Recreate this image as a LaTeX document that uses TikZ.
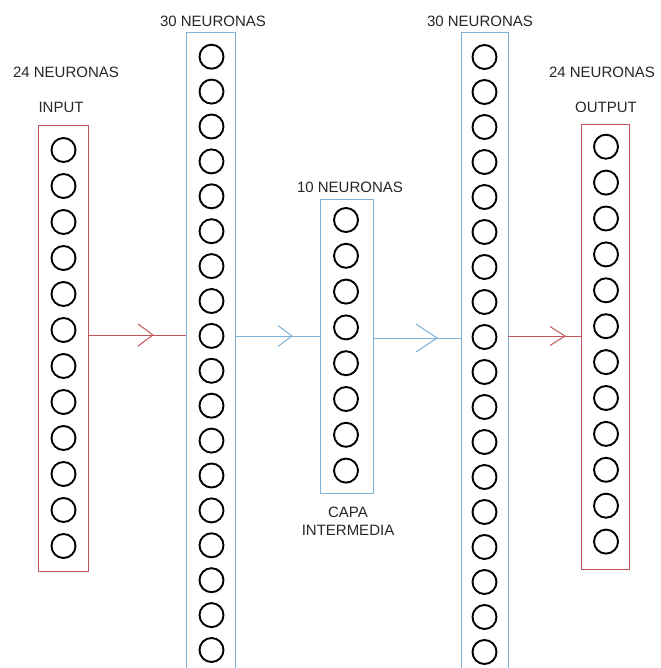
\documentclass[tikz,border=0pt]{standalone}
\usepackage{fontspec}
\setmainfont{Liberation Sans}
\begin{document}
\begin{tikzpicture}[x=1pt,y=-1pt,
  neuron/.style={circle,draw=black,line width=1.9pt,minimum size=24pt,inner sep=0pt},
  redline/.style={draw=layerred,line width=1pt},
  blueline/.style={draw=layerblue,line width=1pt},
  layerbox/.style={rectangle,anchor=north west,inner sep=0pt,outer sep=0pt},
  lbl/.style={font=\fontsize{15}{18}\selectfont,text=black!85,inner sep=0pt,align=center}]
\definecolor{layerred}{RGB}{196,84,90}
\definecolor{layerblue}{RGB}{128,178,214}
\useasboundingbox (0,0) rectangle (660,668);
\clip (0,0) rectangle (660,668);

% layer frames
\node[layerbox,redline,minimum width=50pt,minimum height=445pt] (inbox) at (38,126) {};
\node[layerbox,blueline,minimum width=49pt,minimum height=660pt] (hidA) at (186,33) {};
\node[layerbox,blueline,minimum width=53pt,minimum height=293pt] (mid) at (320,200) {};
\node[layerbox,blueline,minimum width=47pt,minimum height=660pt] (hidB) at (461,33) {};
\node[layerbox,redline,minimum width=48pt,minimum height=444pt] (outbox) at (581,125) {};

% neurons
\foreach \i in {1,...,12} \node[neuron] (in\i) at (63.5,{150+36*(\i-1)}) {};
\foreach \i in {1,...,18} \node[neuron] (a\i) at (211.5,{56.7+34.9*(\i-1)}) {};
\foreach \i in {1,...,8}  \node[neuron] (m\i) at (346,{220+35.8*(\i-1)}) {};
\foreach \i in {1,...,18} \node[neuron] (b\i) at (484.5,{57+35*(\i-1)}) {};
\foreach \i in {1,...,12} \node[neuron] (out\i) at (606,{146.7+35.9*(\i-1)}) {};

% labels
\node[lbl] (tin) at (66,72) {24 NEURONAS};
\node[lbl] (tinput) at (61,107) {INPUT};
\node[lbl] (ta) at (213,21) {30 NEURONAS};
\node[lbl] (tm) at (350,187) {10 NEURONAS};
\node[lbl] (tcapa) at (348,521) {CAPA\\INTERMEDIA};
\node[lbl] (tb) at (480,21) {30 NEURONAS};
\node[lbl] (tout) at (602,72) {24 NEURONAS};
\node[lbl] (toutput) at (606,107) {OUTPUT};

% connections between layers with open chevrons
\draw[redline] (inbox.east |- 0,335) -- coordinate[pos=0.663] (c1) (hidA.west |- 0,335);
\draw[redline] (c1) ++(-15,-11) -- (c1) -- ++(-15,11);
\draw[blueline] (hidA.east |- 0,336) -- coordinate[pos=0.67] (c2) (mid.west |- 0,336);
\draw[blueline] (c2) ++(-14,-10.5) -- (c2) -- ++(-14,10.5);
\draw[blueline] (mid.east |- 0,338) -- coordinate[pos=0.727] (c3) (hidB.west |- 0,338);
\draw[blueline] (c3) ++(-21,-14) -- (c3) -- ++(-21,14);
\draw[redline] (hidB.east |- 0,336) -- coordinate[pos=0.78] (c4) (outbox.west |- 0,336);
\draw[redline] (c4) ++(-15,-9.5) -- (c4) -- ++(-15,9.5);
\end{tikzpicture}
\end{document}
